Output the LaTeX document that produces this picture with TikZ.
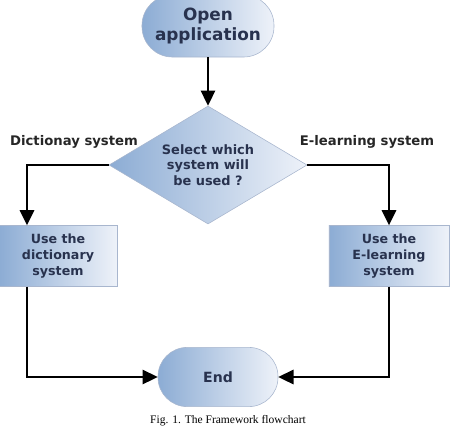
\documentclass[tikz,border=0pt]{standalone}
\usepackage{fontspec}
\setmainfont{Liberation Serif}
\newfontfamily\verd{DejaVu Sans}
\usetikzlibrary{arrows.meta,shapes,positioning,calc}
\definecolor{myblue}{RGB}{140,172,212}
\definecolor{mylight}{RGB}{238,242,249}
\definecolor{myedge}{RGB}{168,182,206}
\definecolor{mytext}{RGB}{40,50,78}

\begin{document}
\begin{tikzpicture}[x=0.025cm,y=-0.025cm,
  every node/.style={font=\verd\bfseries\fontsize{9}{11.3}\selectfont},
  blockbox/.style={draw=myedge,left color=myblue,right color=mylight,
        text=mytext,align=center,inner sep=1pt},
  arr/.style={-{Triangle[length=0.38cm,width=0.36cm]},line width=1.3pt}]
  \useasboundingbox (0,0) rectangle (455,430);
  \node[blockbox,rounded corners=0.76cm,minimum width=3.3cm,minimum height=1.55cm,
        font=\verd\bfseries\fontsize{12}{14.2}\selectfont] (open) at (208,26)
    {Open\\application};
  \node[blockbox,diamond,shape aspect=1.68,minimum width=4.95cm,minimum height=2.95cm,
        inner sep=0pt,font=\verd\bfseries\fontsize{9.2}{11}\selectfont] (decide) at (208,165)
    {Select which\\system will\\be used ?};
  \node[blockbox,minimum width=2.95cm,minimum height=1.52cm] (dict) at (58,256)
    {Use the\\dictionary\\system};
  \node[blockbox,minimum width=3.0cm,minimum height=1.52cm] (elearn) at (389,256)
    {Use the\\E-learning\\system};
  \node[blockbox,rounded corners=0.73cm,minimum width=3cm,minimum height=1.48cm,
        font=\verd\bfseries\fontsize{10}{12}\selectfont] (end) at (218,377)
    {End};
  \node[text=black!85,font=\verd\bfseries\fontsize{9.4}{11}\selectfont] (dictlbl) at (74,142)
    {Dictionay system};
  \node[text=black!85,font=\verd\bfseries\fontsize{9.4}{11}\selectfont] (elearnlbl) at (367,142)
    {E-learning system};
  \node[font=\rmfamily\fontsize{8.2}{9.5}\selectfont] (caption) at (228,421)
    {Fig. 1. The Framework flowchart};
  \coordinate (lcol) at (27,0);
  \draw[arr] (open) -- (decide);
  \draw[arr] (decide.west) -| (lcol |- dict.north);
  \draw[arr] (decide.east) -| (elearn.north);
  \draw[arr] (lcol |- dict.south) |- (end.west);
  \draw[arr] (elearn.south) |- (end.east);
\end{tikzpicture}
\end{document}
